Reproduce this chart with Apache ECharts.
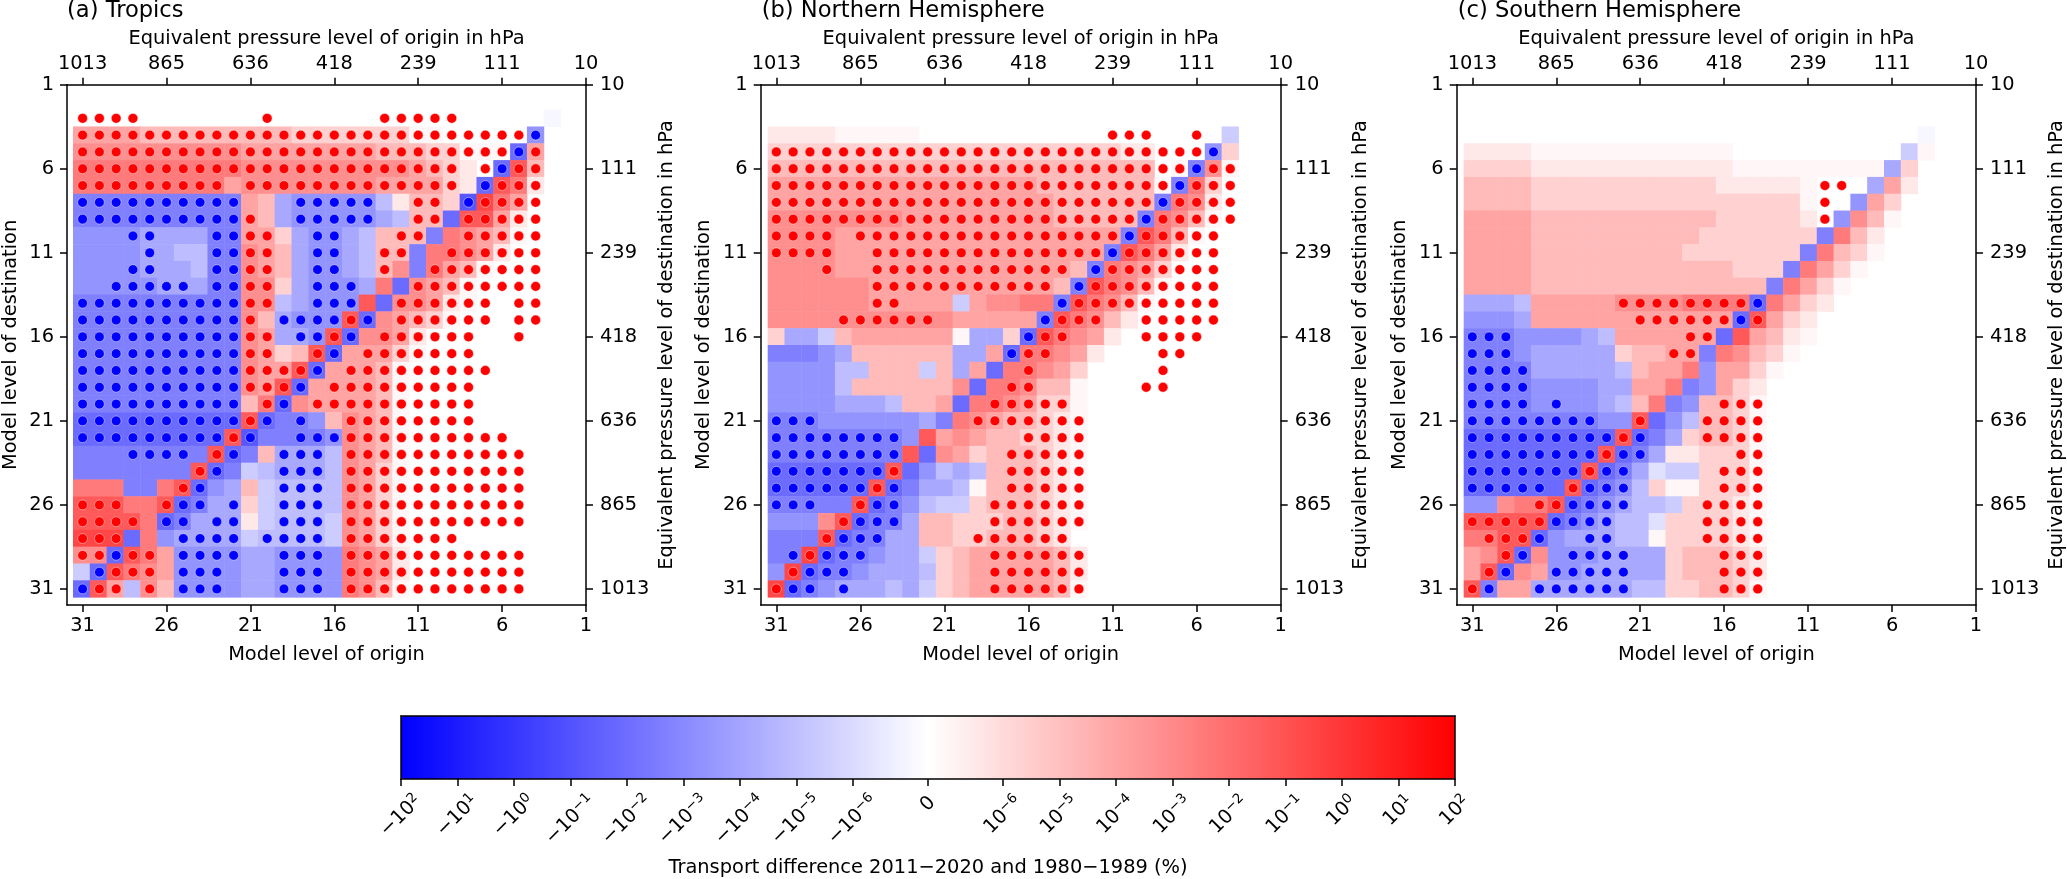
<!DOCTYPE html>
<html><head><meta charset="utf-8">
<style>html,body{margin:0;padding:0;background:#fff}#c{width:2067px;height:879px}</style>
<script src="https://cdn.jsdelivr.net/npm/echarts@6/dist/echarts.min.js"></script>
</head><body><div id="c"></div>
<script>
// ---- tick labels
const levelTicks = [1, 6, 11, 16, 21, 26, 31];
const pressureTicks = [10, 111, 239, 418, 636, 865, 1013];
const panelTitles = ['(a) Tropics', '(b) Northern Hemisphere', '(c) Southern Hemisphere'];
// colour-bar position (symlog decades) of every tick: 0 at centre, ±1.33 for 10^-6, ±9.33 for 10^2
const cbPositive = [1.33, 2.33, 3.33, 4.33, 5.33, 6.33, 7.33, 8.33, 9.33];
const cbExponents = [-6, -5, -4, -3, -2, -1, 0, 1, 2];
// ---- shade code => fraction of colour-bar half range (digits positive, letters negative)
const posShade = {1: .03, 2: .09, 3: .18, 4: .27, 5: .36, 6: .44, 7: .52, 8: .65, 9: .72};
const negShade = {a: .03, b: .12, c: .2, d: .26, e: .34, f: .42, g: .5, h: .58, i: .66};
// ---- rows: destination level 3..31, columns: origin level 31..3 ('.' = blank)
const tropicsShade = [
"............................a",
"5555 444444 444 33333 33 11 ..... f",
"6666666666 55555555 4443 3 111 h 5",
"7777777777 6666666666 5 4 3 2 . h 8 4",
"777777777 5 66666666 5555 3 2 h 8 7 2",
"gggggggggg 5 4 e fffff d 2 4 4 3 i 9 7 5",
"gggggggggg 5 4 e fffff e d 4 4 h 8 8 5 2",
"fff f e eee gg 5 5 3 e ff e d 4 4 4 g 7 6 5 4 1",
"fff f e e d d g g 6 5 4 e f f e d 4 4 g 7 7 6 5 2",
"fff f e e e d g g 6 5 4 e f f e d 4 6 g 7 5 4 1",
"fff f f e e e g g 6 6 3 e f f f e 7 h 6 5 4 1",
"gggggggggg 6 6 d e f f f 8 h 6 6 5 2 1",
"gggggggggg 6 4 e f f f 8 h 6 5 4 3 1",
"gggggggggg 6 5 e e f 8 h 6 6 5 2",
"gggggggggg 6 5 3 4 8 h 5 5 5 3 1",
"gggggggggg 6 5 5 8 h 5 5 5 4 1",
"gggggggggg 6 5 8 h 5 5 5 5 4 1",
"gggggggggg 4 7 h 6 5 5 5 5 4 1",
"hhhhhhhhhh 8 h g g f 4 6 5 4 1",
"hhhhhhhhh 8 i g g g g f 6 5 4 1",
"gggggggg 8 h g 4 e e e d 6 5 4 1",
"ggggggg 8 h g c d eee d 6 5 3 1",
"777 gg 7 8 h f e 4 c ddd d 6 5 3 1",
"888 7 7 8 h g e e 3 c ddd d 6 5 3 1",
"8888 7 h g e e e 2 c ddd c 6 5 3 1",
"999 h 7 f e e e e c d ddd c 6 5 3 1",
"66 h 8 7 5 ffff ee fff f 7 6 5 2",
"c h 8 7 6 5 ffff ee fff f 7 6 5 2",
"h 8 5 d 6 4 ffff ee fff f 7 6 4 1"];
const tropicsRed = ["0-3 11 18-22","0-26","0-25 27","0-22 24 26 27","0-8 10-22 25-27","20 21 24-27","10 20 21 23-27","10 11 19 20 23-27","10 11 18 19 22-27","10 11 18 21-27","10 11 20-27","10 11 19-24 26 27","10 16 19-24 26 27","10 11 15 18-23 26","10 11 14 17-23","10-13 16-24","10-12 15-23","11 14-23","10 16-23","9 16-25","8 16-26","7 16-26","6 16-26","0-2 5 16-26","0-3 16-26","0-2 16-22","0 1 3 4 16-26","2 3 4 16-26","1 2 4 16-26"];
const tropicsBlue = ["","27","26","25","24","0-9 13-17 23","0-9 13-17","3 4 8 9 14 15","4 8 9 14 15","3 4 8 9 14 15","2-6 8 9 14-16","0-9 14-16","0-9 12-15 17","0-9 13 14 16","0-9 15","0-9 14","0-9 13","0-9 12","0-9 11 13","0-8 10 13-15","3-6 9 12-14","8 12-14","7 12-14","6 7 9 12-14","5 6 8 9 12-14","6-9 11-14","2 6-9 12-14","1 6-8 12-14","0 6-8 12-14"];

const northShade = [
"",
"2222 11111 .................. c",
"33333333333333333 33332 2 ... f 3",
"44444444444444444444444 . 1 g 6 1",
"5555555555555555 4444444 1 g 7 3",
"55555555555555555 444444 g 7 6 2",
"66666666 555555555 44444 g 7 6 4 1",
"6666 55555555555555555 g 8 7 4 1",
"6666 5555555555555555 g 8 7 5 2",
"6666 55555555555555 4 g 7 6 5 3",
"666666 55555555555 4 g 8 7 6 4 1",
"666666 55555 c 5 6 6 7 7 g 8 7 6 4 1",
"66666666666 55555 g 8 7 6 4 2",
"3 e e c 4 555555 1 e e 3 h 8 7 6 5 2",
"ggg f e 4 4444 4 e e 5 h 7 7 6 5 2",
"fff f d d 4 4 4 c 4 e 5 h 7 7 6 5 3",
"ffff d 4 44444 6 h 7 7 6 4 4 1",
"fff f e e e d 4 4 5 h 7 7 6 5 3 3 1",
"ggg ffffff e g 7 6 5 4 4 3 2 1",
"gggggggg f 8 5 6 5 4 4 3 3 2 1",
"gggggggg 8 h 6 5 3 4 4 4 3 2 1",
"hhhhhhh 8 h f d e d 4 4 4 3 2 1",
"hhhhhh 8 h g e e d 1 4 4 4 3 2 1",
"ggggg 8 h g f d c c 3 4 4 4 3 2 1",
"fff 6 8 h g g e 4 4 3 3 3 4 4 3 2 1",
"ggg 8 h g g e e 4 4 3 3 4 4 4 3 2",
"g g 9 h g g f e e c 3 4 5 5 5 5 5 4 2",
"f 9 h g g f e e e d 3 4 5 5 5 5 5 4 2",
"9 h g f e e e d e c 3 4 5 5 5 5 5 4 1"];
const northRed = ["","20-22 25","0-25","0-24 26 27","0-23 25-27","0-22 24-27","0-21 23-27","0-3 5-20 22-26","0-3 6-19 21-26","3 6-17 20-26","6-16 19-26","6 7 18-26","4-9 17-19 22-26","16 17 22-25","15 16 23 24","15 23","14 15 22 23","13-17","12-18","15-18","14-18","7 14-18","6 14-18","5 13-18","4 13-18","3 12-17","2 13-18","1 13-18","0 13-18"];
const northBlue = ["","","26","25","24","23","22","21","20","19","18","17","16","15","14","","","","0-2","0-7","0-7","0-6","0-5 7","0-2 6 7","5-7","4-6","1 3-5","2-4","1 2 4"];

const southShade = [
"",
"........................... a",
"2222 111111111111 .......... c 1",
"3333 222222 2 22222 1111 11111 e 3",
"4444 33333333333 22222 1 .. . e 5 2",
"4444 3333333333333333 1 .. f 5 3",
"5555 44444444444 33333 2 . f 6 4 1",
"5555 4444444444 3333333 g 7 4 2",
"5555 444444444 3333333 g 7 4 3 1",
"5555 444444444444 333 g 7 5 3 1",
"5555 44444444444444 g 7 5 3 1",
"eee d 55555 6666 7777 h 7 5 3 2",
"fff e 555555 555555 h 8 5 3 2",
"ggg f f f f e d 5 5 5 5 5 5 h 8 5 4 2 1",
"ggg f eeee e 3 4 4 5 5 g 7 6 4 3 1",
"gggg eeee e d 4 5 5 7 f 5 5 3 1",
"gggg ffff e e 5 5 7 g f 5 3 2",
"gggg f f f f e d 4 7 g f 4 4 3 1",
"gggggggg f f 8 h f d 4 4 3 1",
"hhhhhhhhh 8 h g e 3 4 4 3 1",
"hhhhhhhh 8 h g e 2 2 3 3 3 1",
"hhhhhhh 8 h g e b c c 3 3 3 1",
"hhhhhh 8 h g f d 3 1 1 3 3 3 1",
"f f 6 7 7 8 h g f e d d c 3 3 3 2 1",
"8888 8 h g f e d d b 3 3 3 3 2 1",
"7 7 8 8 h f e e e d d 1 3 3 3 3 2 1",
"5 6 8 h 6 f f f e e e e 3 4 4 4 3 2",
"5 8 h 6 5 f f e e e e e 3 4 4 4 3 2",
"8 g 5 5 e e e e e e d d 3 3 4 4 3 1"];
const southRed = ["","","","","21 22","21","21","","","","","9-16","10-15 17","13 14","12 13","","","15-17","10 14-17","9 14-17","8 16 17","7 15-17","6 15-17","4 5 14-17","0-4 14-17","1-3 14-17","2 15-17","1 15-17","0 15-17"];
const southBlue = ["","","","","","","","","","","","17","16","0-2","0-2","0-3","0-3","0-3 5","0-7","0-8 10","0-7 9 10","0-6 8 9","0-4 7-9","6-9","5-8","4 7 8","3 6-9","2 5-9","1 4-9"];

// ---- helpers that decode the tables above
const firstRow = 3, firstCol = 31, nCells = 29;
function shadeValue(ch){
  if (posShade[ch] !== undefined) return posShade[ch] * 9.33;
  if (negShade[ch] !== undefined) return -negShade[ch] * 9.33;
  return null;
}
function heatData(rows){
  const out = [];
  rows.forEach((row, r) => {
    row.replace(/ /g, '').split('').forEach((ch, k) => {
      const v = shadeValue(ch);
      if (v !== null) out.push([k, r, v]);
    });
  });
  return out;
}
function dotData(rows){
  const out = [];
  rows.forEach((row, r) => {
    row.split(' ').filter(Boolean).forEach(tok => {
      const p = tok.split('-').map(Number);
      for (let k = p[0]; k <= (p.length > 1 ? p[1] : p[0]); k++) out.push([firstCol - k, firstRow + r]);
    });
  });
  return out;
}

const FONT = 'DejaVu Sans', FS = 19.4;
const panels = [
  {left: 66, shade: tropicsShade, red: tropicsRed, blue: tropicsBlue},
  {left: 760.7, shade: northShade, red: northRed, blue: northBlue},
  {left: 1456.7, shade: southShade, red: southRed, blue: southBlue}
];
const W = 520, H = 520.4, T = 84.7, xMax = 31.93, yMax = 31.96;
const ux = W / (xMax - 1), uy = H / (yMax - 1);
const colCats = Array.from({length: nCells}, (_, k) => String(firstCol - k));
const rowCats = Array.from({length: nCells}, (_, r) => String(firstRow + r));
const axisBase = {
  axisLine: {show: true, onZero: false, lineStyle: {color: '#000', width: 1.5}},
  axisTick: {show: true, length: 7, lineStyle: {color: '#000', width: 1.5}, customValues: levelTicks},
  splitLine: {show: false}, z: 5, silent: true,
  nameTextStyle: {fontFamily: FONT, fontSize: FS, color: '#000'}
};
const lbl = (extra) => Object.assign({show: true, fontFamily: FONT, fontSize: FS, color: '#000', customValues: levelTicks, hideOverlap: false}, extra);
const pressureOf = v => String(pressureTicks[levelTicks.indexOf(v)]);

const grids = [], xAxes = [], yAxes = [], series = [], titles = [], heatIdx = [];
panels.forEach((p, i) => {
  // category grid for the cells
  const gHeat = grids.length;
  grids.push({left: p.left + (xMax - 31.5) * ux, top: T + 1.5 * uy, width: nCells * ux, height: nCells * uy});
  const xHeat = xAxes.length, yHeat = yAxes.length;
  xAxes.push({type: 'category', gridIndex: gHeat, data: colCats, show: false});
  yAxes.push({type: 'category', gridIndex: gHeat, data: rowCats, inverse: true, show: false});
  heatIdx.push(series.length);
  series.push({type: 'heatmap', name: panelTitles[i], xAxisIndex: xHeat, yAxisIndex: yHeat, data: heatData(p.shade), progressive: 0, silent: true, z: 1, emphasis: {disabled: true}});
  // value grid for frame, ticks and dots
  const gF = grids.length;
  grids.push({left: p.left, top: T, width: W, height: H});
  const xB = xAxes.length;
  xAxes.push(Object.assign({}, axisBase, {type: 'value', gridIndex: gF, position: 'bottom', inverse: true, min: 1, max: xMax,
    name: 'Model level of origin', nameLocation: 'middle', nameGap: 40,
    axisLabel: lbl({margin: 11, formatter: v => String(v)})}));
  xAxes.push(Object.assign({}, axisBase, {type: 'value', gridIndex: gF, position: 'top', inverse: true, min: 1, max: xMax,
    name: 'Equivalent pressure level of origin in hPa', nameLocation: 'middle', nameGap: 36,
    axisLabel: lbl({margin: 11, formatter: pressureOf})}));
  const yL = yAxes.length;
  yAxes.push(Object.assign({}, axisBase, {type: 'value', gridIndex: gF, position: 'left', inverse: true, min: 1, max: yMax,
    name: 'Model level of destination', nameLocation: 'middle', nameGap: 47,
    axisLabel: lbl({margin: 13, formatter: v => String(v)})}));
  yAxes.push(Object.assign({}, axisBase, {type: 'value', gridIndex: gF, position: 'right', inverse: true, min: 1, max: yMax,
    name: 'Equivalent pressure level of destination in hPa', nameLocation: 'middle', nameGap: 71,
    axisLabel: lbl({margin: 14, formatter: pressureOf})}));
  const dot = (data, color, name) => series.push({type: 'scatter', name, xAxisIndex: xB, yAxisIndex: yL, data, symbol: 'circle', symbolSize: 9.8, silent: true, z: 3,
    itemStyle: {color, opacity: 1, borderColor: 'rgba(255,255,255,0.55)', borderWidth: 0.8}});
  dot(dotData(p.red), '#ff0000', 'significant increase');
  dot(dotData(p.blue), '#0000ff', 'significant decrease');
  titles.push({text: panelTitles[i], left: p.left + 1, top: 0, padding: 0, textStyle: {fontFamily: FONT, fontSize: 22.6, fontWeight: 'normal', color: '#000'}});
});

// ---- colour bar: a visualMap bar under a frame with symlog-decade value axes
const cbL = 401, cbT = 716, cbW = 1054, cbH = 63;
const cbNeg = cbPositive.slice().reverse().map(v => -v);
const cbValues = cbNeg.concat([0], cbPositive);
function cbLabel(v){
  if (Math.abs(v) < 1e-6) return '0';
  const i = cbPositive.findIndex(x => Math.abs(x - Math.abs(v)) < 1e-6);
  return '{b|' + (v < 0 ? '\u2212' : '') + '10}{s|' + String(cbExponents[i]).replace('-', '\u2212') + '}';
}
const gC = grids.length;
grids.push({left: cbL, top: cbT, width: cbW, height: cbH});
const cbAxisBase = Object.assign({}, axisBase, {z: 6, axisTick: {show: true, length: 7, lineStyle: {color: '#000', width: 1.5}, customValues: cbValues}});
xAxes.push(Object.assign({}, cbAxisBase, {type: 'value', gridIndex: gC, position: 'bottom', min: -9.33, max: 9.33,
  name: 'Transport difference 2011\u22122020 and 1980\u22121989 (%)', nameLocation: 'middle', nameGap: 79,
  axisLabel: {show: false}}));
xAxes.push(Object.assign({}, cbAxisBase, {type: 'value', gridIndex: gC, position: 'top', min: -9.33, max: 9.33, axisTick: {show: false}, axisLabel: {show: false}}));
yAxes.push(Object.assign({}, cbAxisBase, {type: 'value', gridIndex: gC, position: 'left', min: 0, max: 1, axisTick: {show: false}, axisLabel: {show: false}}));
yAxes.push(Object.assign({}, cbAxisBase, {type: 'value', gridIndex: gC, position: 'right', min: 0, max: 1, axisTick: {show: false}, axisLabel: {show: false}}));
// tick labels are centred under their ticks; each group of equal length has its own drop
const cbLabelGroups = [
  {values: [0], margin: 25},
  {values: cbNeg.slice(0, 3), margin: 37},
  {values: cbNeg.slice(3), margin: 41},
  {values: cbPositive.slice(0, 6), margin: 36},
  {values: cbPositive.slice(6), margin: 32}
];
cbLabelGroups.forEach(g => {
  const gi = grids.length;
  grids.push({left: cbL, top: cbT, width: cbW, height: cbH});
  xAxes.push({type: 'value', gridIndex: gi, position: 'bottom', min: -9.33, max: 9.33, z: 6, silent: true,
    axisLine: {show: false}, axisTick: {show: false}, splitLine: {show: false},
    axisLabel: {show: true, customValues: g.values, rotate: 45, margin: g.margin, align: 'center', verticalAlign: 'middle', hideOverlap: false, formatter: cbLabel,
      fontFamily: FONT, fontSize: FS, color: '#000',
      rich: {b: {fontFamily: FONT, fontSize: FS, color: '#000'}, s: {fontFamily: FONT, fontSize: 13.5, color: '#000', padding: [0, 0, 9, 0]}}}});
  yAxes.push({type: 'value', gridIndex: gi, min: 0, max: 1, show: false});
});

const chart = echarts.init(document.getElementById('c'), null, {renderer: 'canvas', width: 2067, height: 879});
chart.setOption({
  animation: false, backgroundColor: '#fff', tooltip: {show: false},
  title: titles, grid: grids, xAxis: xAxes, yAxis: yAxes, series,
  visualMap: {type: 'continuous', min: -9.33, max: 9.33, seriesIndex: heatIdx, orient: 'horizontal', show: true,
    left: cbL, top: cbT, itemWidth: cbH, itemHeight: cbW, padding: 0, text: null, showLabel: false, calculable: false, hoverLink: false,
    inRange: {color: ['#0000ff', '#ffffff', '#ff0000']}, z: 4}
});
</script></body></html>
